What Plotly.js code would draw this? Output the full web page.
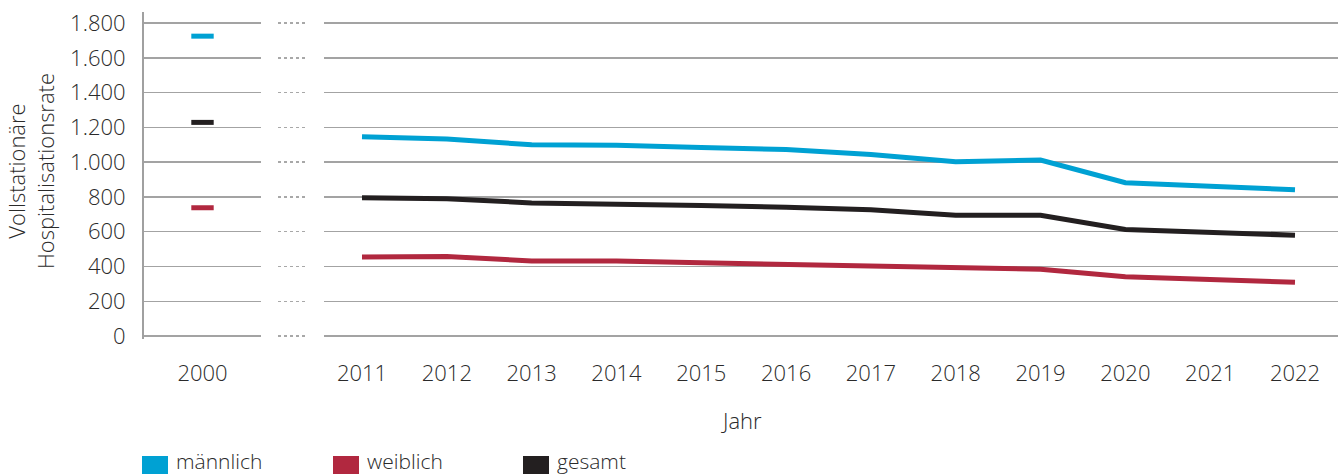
<!DOCTYPE html>
<html>
<head>
<meta charset="utf-8">
<script src="https://cdn.plot.ly/plotly-3.0.1.min.js"></script>
<style>html,body{margin:0;padding:0;background:#fff;}#chart{width:1338px;height:474px;}</style>
</head>
<body>
<div id="chart"></div>
<script>
// ---- data ----
const seriesNames = ["männlich", "weiblich", "gesamt"];
const seriesColors = ["#00a1d3", "#b1283f", "#231f20"];
const baseYear = [2000];
const baseMale = [1725];
const baseFemale = [738];
const baseTotal = [1229];
const years = [2011, 2012, 2013, 2014, 2015, 2016, 2017, 2018, 2019, 2020, 2021, 2022];
const maleVals = [1146, 1133, 1100, 1097, 1084, 1073, 1044, 1002, 1012, 882, 862, 841];
const femaleVals = [454, 457, 432, 432, 421, 412, 400, 387, 384, 341, 327, 309];
const totalVals = [796, 790, 766, 761, 751, 741, 727, 695, 695, 613, 596, 580];
const yTicks = [0, 200, 400, 600, 800, 1000, 1200, 1400, 1600, 1800];
const yTitleLines = ["Vollstationäre", "Hospitalisationsrate"];
const xTitle = "Jahr";

const font = "'Open Sans', 'Noto Sans', sans-serif";
const FS = 22;
const txt = "#2a2a2a";
const grid = "#a3a3a3";

const baseSeries = [baseMale, baseFemale, baseTotal];
const mainSeries = [maleVals, femaleVals, totalVals];

const traces = [];
mainSeries.forEach((vals, i) => {
  traces.push({
    x: years, y: vals, xaxis: "x2", yaxis: "y2", type: "scatter", mode: "lines",
    line: {color: seriesColors[i], width: 5}, name: seriesNames[i], showlegend: false,
    hoverinfo: "x+y"
  });
});
baseSeries.forEach((vals, i) => {
  traces.push({
    x: baseYear, y: vals, xaxis: "x", yaxis: "y", type: "scatter", mode: "markers",
    marker: {symbol: "line-ew", size: 16, line: {color: seriesColors[i], width: 5}},
    name: seriesNames[i], showlegend: false, hoverinfo: "x+y"
  });
});
// empty trace so the dotted "axis break" subplot is created
traces.push({x: [], y: [], xaxis: "x3", yaxis: "y3", type: "scatter", mode: "lines", showlegend: false});

// plot area in pixels
const L = 144, R = 0, T = 12, B = 135, W = 1338, H = 474;
const pw = W - L - R, ph = H - T - B;
const px = v => (v - L) / pw;          // pixel x -> paper
const py = v => (H - B - v) / ph;      // pixel y -> paper

const yBase = {
  range: [-17, 1864], tickvals: yTicks, showgrid: true, gridcolor: grid, gridwidth: 1.5,
  zeroline: false, fixedrange: true
};

const fnt = (s) => ({family: font, size: s, color: txt, weight: 300});

// legend built from series names/colours
const shapes = [], annotations = [];
const legX = [142, 333, 523];
seriesNames.forEach((n, i) => {
  shapes.push({type: "rect", xref: "paper", yref: "paper",
    x0: px(legX[i]), x1: px(legX[i] + 26), y0: py(476), y1: py(456),
    fillcolor: seriesColors[i], line: {width: 0}});
  annotations.push({xref: "paper", yref: "paper", x: px(legX[i] + 32), y: py(461),
    xanchor: "left", yanchor: "middle", text: n, showarrow: false, font: fnt(21)});
});
annotations.push({xref: "paper", yref: "paper", x: 0.5, y: py(420), xanchor: "center", yanchor: "middle",
  text: xTitle, showarrow: false, font: fnt(FS)});
annotations.push({xref: "paper", yref: "paper", x: px(30), y: py(171), xanchor: "center", yanchor: "middle",
  text: yTitleLines.join("<br>"), textangle: -90, showarrow: false, font: fnt(FS)});

const layout = {
  width: W, height: H,
  margin: {l: L, r: R, t: T, b: B},
  paper_bgcolor: "#fff", plot_bgcolor: "#fff",
  separators: ",.",
  font: fnt(FS),
  showlegend: false,
  xaxis: {domain: [0, px(261)], range: [1999.5, 2000.5], tickvals: baseYear, ticktext: ["2000"],
    anchor: "y", showgrid: false, zeroline: false, showline: false,
    ticks: "outside", ticklen: 15, tickcolor: "rgba(0,0,0,0)", tickfont: fnt(FS), fixedrange: true},
  xaxis3: {domain: [px(278), px(306)], range: [0, 1], anchor: "y3", showgrid: false, zeroline: false,
    showticklabels: false, ticks: "", fixedrange: true},
  xaxis2: {domain: [px(324), 1], range: [2010.552, 2022.507], tickvals: years, anchor: "y2",
    showgrid: false, zeroline: false, showline: false,
    ticks: "outside", ticklen: 15, tickcolor: "rgba(0,0,0,0)", tickfont: fnt(FS), fixedrange: true},
  yaxis: Object.assign({}, yBase, {anchor: "x", showline: true, linecolor: "#a0a0a0", linewidth: 2,
    tickformat: ",d", ticks: "outside", ticklen: 12, tickcolor: "rgba(0,0,0,0)", tickfont: fnt(FS)}),
  yaxis3: Object.assign({}, yBase, {anchor: "x3", showticklabels: false, griddash: "dot", gridcolor: "#a8a8a8", gridwidth: 1.5}),
  yaxis2: Object.assign({}, yBase, {anchor: "x2", showticklabels: false}),
  shapes: shapes,
  annotations: annotations
};

Plotly.newPlot("chart", traces, layout, {displayModeBar: false, staticPlot: true});
</script>
</body>
</html>
